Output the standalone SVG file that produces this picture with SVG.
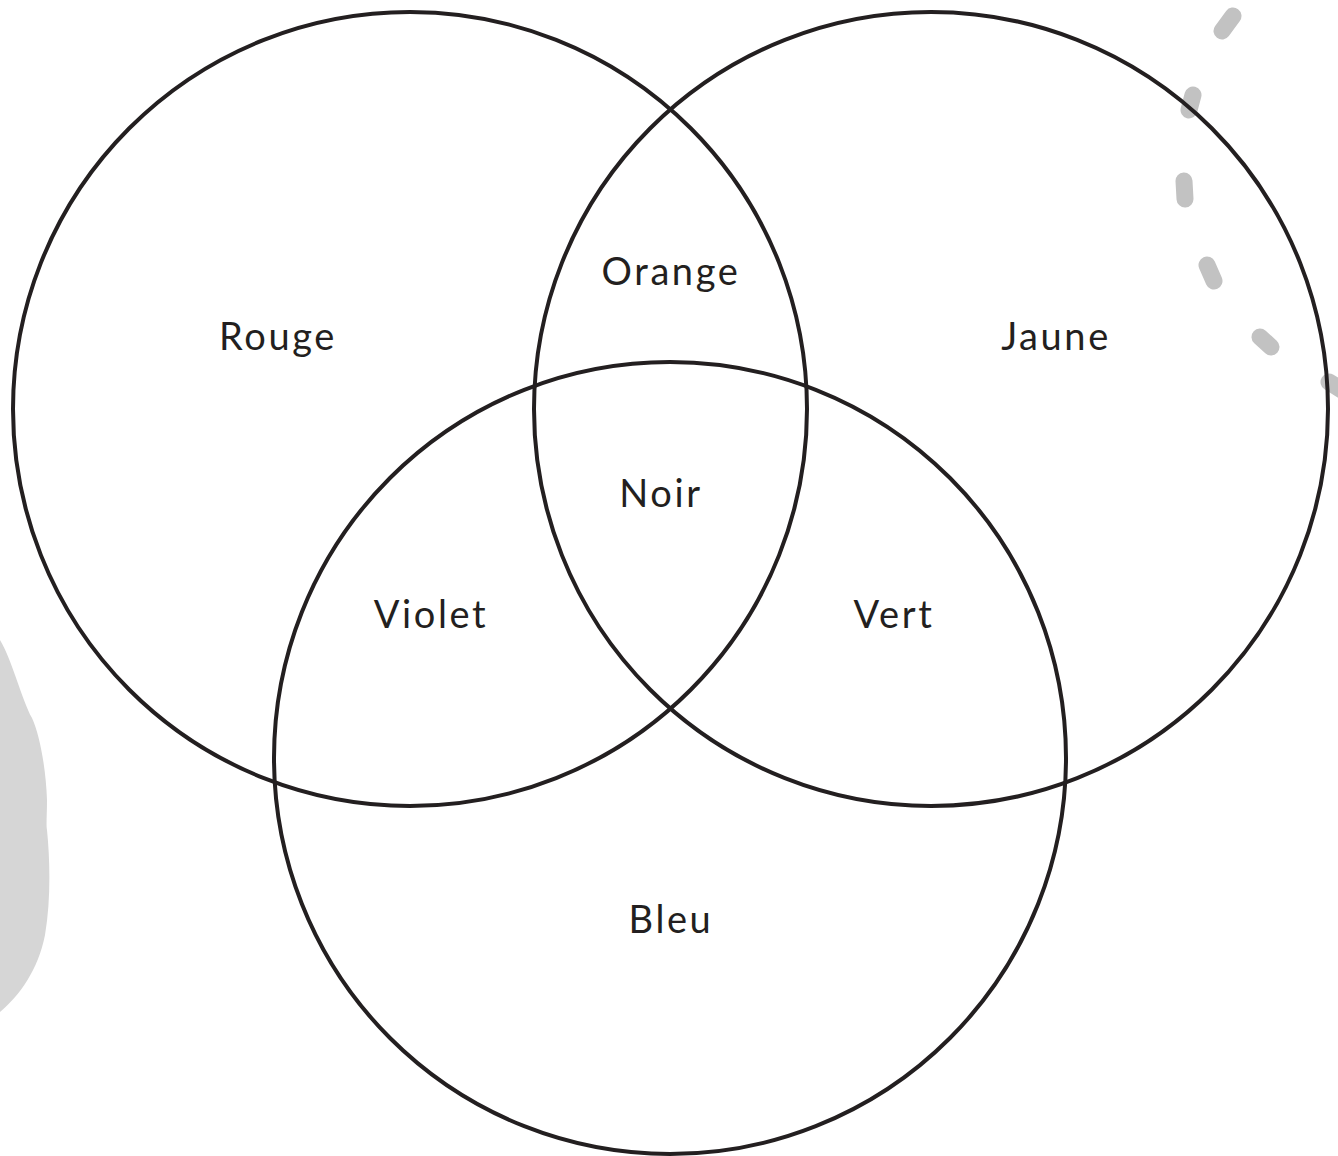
<svg xmlns="http://www.w3.org/2000/svg" width="1338" height="1156" viewBox="0 0 1338 1156">
<style>
.set{fill:none;stroke:#231f20;stroke-width:4}
.lbl{font-family:Lato,"Noto Sans",sans-serif;font-size:38px;letter-spacing:2.6px;fill:#231f20;text-anchor:middle}
.dash{fill:none;stroke:#c2c2c2;stroke-width:17;stroke-linecap:round}
</style>
<rect width="1338" height="1156" fill="#ffffff"/>
<g id="decor">
<path d="M0,640 C12,660 22,700 32,718 C40,735 46,770 47,800 C47,815 46,825 47,830 C50,860 51,900 45,935 C38,970 20,995 0,1012 Z" fill="#d6d6d6"/>
<path class="dash" d="M1233,16 L1222,31 M1193,95 L1189,110 M1184,181 L1185,199 M1207,265 L1214,281 M1260,337 L1271,347 M1329,382 L1345,392"/>
</g>
<g id="connectors"></g>
<g id="rouge"><circle class="set" cx="410" cy="409" r="397"/><text class="lbl" x="278" y="350">Rouge</text></g>
<g id="jaune"><circle class="set" cx="931" cy="409" r="397"/><text class="lbl" x="1056" y="350">Jaune</text></g>
<g id="bleu"><circle class="set" cx="670" cy="758" r="396"/><text class="lbl" x="671" y="933">Bleu</text></g>
<g id="orange"><text class="lbl" x="671" y="285">Orange</text></g>
<g id="noir"><text class="lbl" x="661" y="507">Noir</text></g>
<g id="violet"><text class="lbl" x="431" y="628">Violet</text></g>
<g id="vert"><text class="lbl" x="894" y="628">Vert</text></g>
</svg>
